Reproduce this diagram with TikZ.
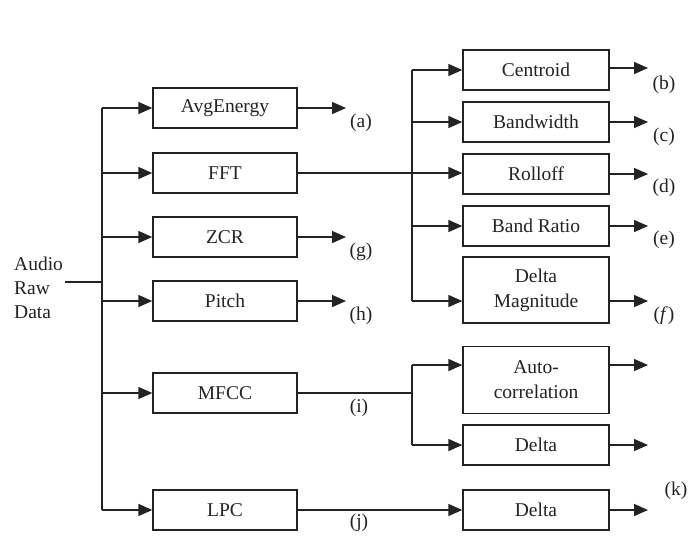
\documentclass[tikz,border=0pt]{standalone}
\usepackage{fontspec}
\setmainfont{Liberation Serif}
\usetikzlibrary{arrows.meta,calc}
\definecolor{ink}{RGB}{35,35,35}
\begin{document}
\begin{tikzpicture}[x=1pt,y=-1pt,
  every node/.style={font=\fontsize{19.5}{25}\selectfont, text=ink},
  box/.style={draw=ink, line width=1.4pt, minimum height=40pt, inner sep=2pt, align=center},
  lbox/.style={box, minimum width=144pt},
  rbox/.style={box, minimum width=146pt},
  ln/.style={draw=ink, line width=1.4pt},
  arr/.style={ln, -{Triangle[length=14pt,width=12pt]}},
  lab/.style={inner sep=0pt}]
\useasboundingbox (0,0) rectangle (688,555);
\fill[white] (0,0) rectangle (688,555);

% left column
\node[lbox] (avg) at (225,108) {AvgEnergy};
\node[lbox] (fft) at (225,173) {FFT};
\node[lbox] (zcr) at (225,237) {ZCR};
\node[lbox] (pit) at (225,301) {Pitch};
\node[lbox] (mfcc) at (225,393) {MFCC};
\node[lbox] (lpc) at (225,510) {LPC};

% input
\node[align=left, anchor=west, inner sep=1pt, font=\fontsize{19.5}{24}\selectfont] (aud) at (13,288) {Audio\\Raw\\Data};
\coordinate (b0) at (102,282);
\coordinate (btop) at (102,108);
\coordinate (bbot) at (102,510);
\draw[ln] ($(aud.east)+(1,-6)$) -- (b0);
\draw[ln] (btop) -- (bbot);
\foreach \n in {avg,fft,zcr,pit,mfcc,lpc}{
  \draw[arr] (\n.west -| btop) -- (\n.west);
}

% right column
\node[rbox] (cen) at (536,70) {Centroid};
\node[rbox] (bw) at (536,122) {Bandwidth};
\node[rbox] (ro) at (536,174) {Rolloff};
\node[rbox] (br) at (536,226) {Band Ratio};
\node[rbox, minimum height=66pt] (dm) at (536,290) {Delta\\Magnitude};
\node[rbox, minimum height=67pt] (ac) at (536,380) {Auto-\\correlation};
\node[rbox] (d2) at (536,445) {Delta};
\node[rbox] (d3) at (536,510) {Delta};

% FFT bus
\coordinate (rtop) at (412,70);
\coordinate (rbot) at (412,301);
\draw[ln] (rtop) -- (rbot);
\draw[arr] (fft.east) -- (fft.east -| ro.west);
\foreach \n in {cen,bw,br}{
  \draw[arr] (\n.west -| rtop) -- (\n.west);
}
\draw[arr] (rbot) -- (rbot -| dm.west);

% MFCC branch
\coordinate (mtop) at (412,365);
\coordinate (mbot) at (412,445);
\draw[ln] (mfcc.east) -- (mfcc.east -| mtop);
\draw[ln] (mtop) -- (mbot);
\draw[arr] (mtop) -- (mtop -| ac.west);
\draw[arr] (mbot) -- (mbot -| d2.west);

% LPC
\draw[arr] (lpc.east) -- (d3.west);

% left outputs
\coordinate (oa) at (346,108);
\draw[arr] (avg.east) -- (oa);
\draw[arr] (zcr.east) -- (zcr.east -| oa);
\draw[arr] (pit.east) -- (pit.east -| oa);

% right outputs
\coordinate (ro0) at (648,70);
\draw[arr] ($(cen.east)+(0,-2)$) -- ($(cen.east -| ro0)+(0,-2)$);
\foreach \n in {bw,ro,br}{
  \draw[arr] (\n.east) -- (\n.east -| ro0);
}
\draw[arr] (rbot -| dm.east) -- (rbot -| ro0);
\draw[arr] (mtop -| ac.east) -- (mtop -| ro0);
\draw[arr] (d2.east) -- (d2.east -| ro0);
\draw[arr] (d3.east) -- (d3.east -| ro0);

% labels
\node[lab] (la) at (361,123) {(a)};
\node[lab] (lg) at (361,252) {(g)};
\node[lab] (lh) at (361,316) {(h)};
\node[lab] (li) at (359,408) {(i)};
\node[lab] (lj) at (359,523) {(j)};
\node[lab] (lb) at (664,85) {(b)};
\node[lab] (lc) at (664,137) {(c)};
\node[lab] (ld) at (664,188) {(d)};
\node[lab] (le) at (664,240) {(e)};
\node[lab] (lf) at (664,316) {(\textit{f})};
\node[lab] (lk) at (676,491) {(k)};
\end{tikzpicture}
\end{document}
